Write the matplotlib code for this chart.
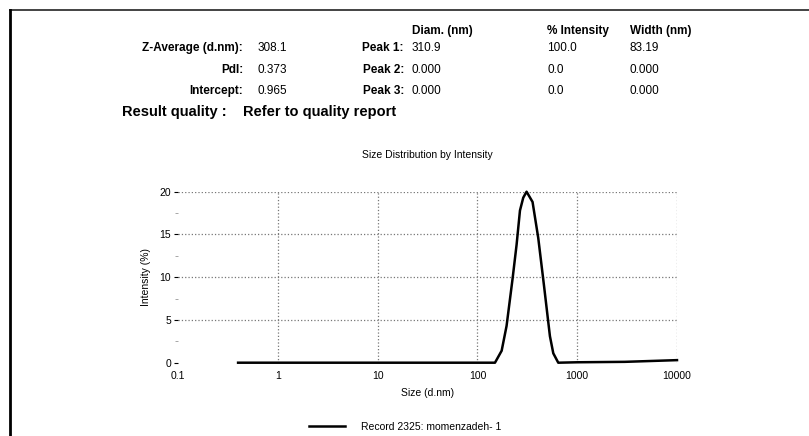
import matplotlib.pyplot as plt
from matplotlib.lines import Line2D

plt.rcParams['font.family'] = ['Liberation Sans', 'DejaVu Sans']

# size distribution (d.nm, % intensity)
size_nm = [0.4, 1.0, 3.0, 10.0, 30.0, 100.0, 150.0, 175.0, 196.0, 225.0, 247.0,
           267.0, 288.0, 311.0, 357.0, 407.0, 465.0, 533.0, 576.0, 646.0,
           1000.0, 3000.0, 10000.0]
intensity = [0.0, 0.0, 0.0, 0.0, 0.0, 0.0, 0.0, 1.4, 4.3, 9.8, 13.8,
             17.8, 19.3, 20.0, 18.8, 14.6, 9.0, 3.1, 1.1, 0.0,
             0.05, 0.1, 0.3]

xticks = [0.1, 1, 10, 100, 1000, 10000]
xtick_labels = ['0.1', '1', '10', '100', '1000', '10000']
yticks = [0, 5, 10, 15, 20]

# result table
left_labels = ['Z-Average (d.nm):', 'PdI:', 'Intercept:']
left_values = ['308.1', '0.373', '0.965']
peak_labels = ['Peak 1:', 'Peak 2:', 'Peak 3:']
col_headers = ['Diam. (nm)', '% Intensity', 'Width (nm)']
peak_diam = ['310.9', '0.000', '0.000']
peak_int = ['100.0', '0.0', '0.0']
peak_width = ['83.19', '0.000', '0.000']
record_name = 'Record 2325: momenzadeh- 1'

W, H = 809, 436
fig = plt.figure(figsize=(W / 100, H / 100), dpi=100)
fig.patch.set_facecolor('white')


def fx(px):
    return px / W


def fy(py):
    return 1 - py / H


# page border (top and left edges of the scanned frame)
fig.add_artist(Line2D([fx(10), fx(809)], [fy(10), fy(10)], color='#222222', lw=1.2))
fig.add_artist(Line2D([fx(10), fx(10)], [fy(10), fy(436)], color='black', lw=2.0))

fs = 8.5
for i, col in enumerate(col_headers):
    fig.text(fx([412, 547, 630][i]), fy(31), col, fontsize=fs, weight='bold',
             va='center', ha='left')

rows_y = [48, 70, 91]
for i in range(3):
    y = fy(rows_y[i])
    fig.text(fx(243), y, left_labels[i], fontsize=fs, weight='bold', ha='right', va='center')
    fig.text(fx(258), y, left_values[i], fontsize=fs, ha='left', va='center')
    fig.text(fx(404), y, peak_labels[i], fontsize=fs, weight='bold', ha='right', va='center')
    fig.text(fx(412), y, peak_diam[i], fontsize=fs, ha='left', va='center')
    fig.text(fx(547), y, peak_int[i], fontsize=fs, ha='left', va='center')
    fig.text(fx(630), y, peak_width[i], fontsize=fs, ha='left', va='center')

fig.text(fx(122), fy(112), 'Result quality :', fontsize=10.5, weight='bold', ha='left', va='center')
fig.text(fx(243), fy(112), 'Refer to quality report', fontsize=10.5, weight='bold',
         ha='left', va='center')

ax = fig.add_axes([fx(178), fy(362.7), fx(677) - fx(178), (362.7 - 191.7) / H])
line, = ax.plot(size_nm, intensity, color='black', lw=1.8, clip_on=False,
                label=record_name)
ax.set_xscale('log')
ax.set_xlim(0.1, 10000)
ax.set_ylim(0, 20)
ax.set_xticks(xticks)
ax.set_xticklabels(xtick_labels)
ax.minorticks_off()
ax.set_yticks(yticks)
ax.set_yticks([2.5, 7.5, 12.5, 17.5], minor=True)
ax.tick_params(axis='x', length=0, labelsize=7.5, pad=6)
ax.tick_params(axis='y', which='major', length=3, width=0.8, labelsize=7.5, pad=2)
ax.tick_params(axis='y', which='minor', length=2, width=0.6, color='#999999')
for s in ax.spines.values():
    s.set_visible(False)

ax.grid(True, which='major', linestyle=':', color='#777777', lw=0.9)
ax.get_xgridlines()[0].set_visible(False)
ax.get_ygridlines()[0].set_visible(False)

ax.set_title('Size Distribution by Intensity', fontsize=7.5, pad=24)
ax.set_xlabel('Size (d.nm)', fontsize=7.5, labelpad=5)
ax.set_ylabel('Intensity (%)', fontsize=7.5, labelpad=6)

fig.legend(handles=[line], loc='center', bbox_to_anchor=(fx(405), fy(427)),
           frameon=False, fontsize=7.5, handlelength=3.5, handletextpad=1.5)

fig.savefig('out.png', dpi=100)
